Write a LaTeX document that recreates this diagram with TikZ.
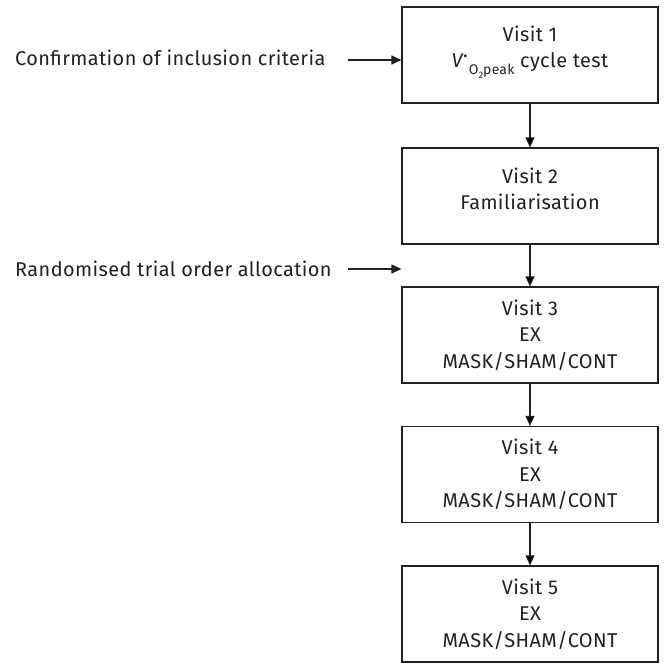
\documentclass[tikz,border=0pt]{standalone}
\usepackage{fontspec}
\setmainfont{Fira Sans}[LetterSpace=2]
\usetikzlibrary{arrows.meta}
\definecolor{ink}{HTML}{231F20}
\begin{document}
\begin{tikzpicture}[x=1bp,y=-1bp]
      \tikzset{visit/.style={draw=ink, line width=1.2bp, minimum width=256bp, minimum height=96bp, align=center, inner sep=0pt, text=ink, font=\fontsize{20}{26.5}\selectfont},
               note/.style={anchor=west, inner sep=0pt, text=ink, font=\fontsize{20}{26.5}\selectfont},
               arr/.style={draw=ink, line width=1.1bp, -{Triangle[length=10bp,width=9bp]}}}
      \useasboundingbox (0,0) rectangle (666,663);
%% Visits
      	\node[visit] (v1) at (530,55) {Visit 1\\{\itshape V}\kern0.02em\raisebox{0.5em}{.}\kern0.05em\raisebox{-0.35em}{\fontsize{14}{14}\selectfont O\raisebox{-0.25em}{\fontsize{9.5}{9.5}\selectfont 2}peak} cycle test\\[-10bp]\mbox{}};
     	\node[visit] (v2) at (530,196) {Visit 2\\Familiarisation\\[-12bp]\mbox{}};
     	\node[visit] (v3) at (530,335) {Visit 3\\EX\\MASK/SHAM/CONT};
     	\node[visit] (v4) at (530,474.5) {Visit 4\\EX\\MASK/SHAM/CONT};
     	\node[visit] (v5) at (530,614) {Visit 5\\EX\\MASK/SHAM/CONT};
%% Side notes
      	\node[note] (conf) at (15,58) {Confirmation of inclusion criteria};
      	\node[note] (rand) at (15,269) {Randomised trial order allocation};
      	\coordinate (c1) at (348,60);
      	\coordinate (c2) at (348,269);
%Arrows
		\path [arr] (v1) edge (v2);
		\path [arr] (v2) edge (v3);
		\path [arr] (v3) edge (v4);
		\path [arr] (v4) edge (v5);
		\draw [arr] (c1) -- (c1 -| v1.west);
		\draw [arr] (c2) -- (c2 -| v3.west);

\end{tikzpicture}
\end{document}
